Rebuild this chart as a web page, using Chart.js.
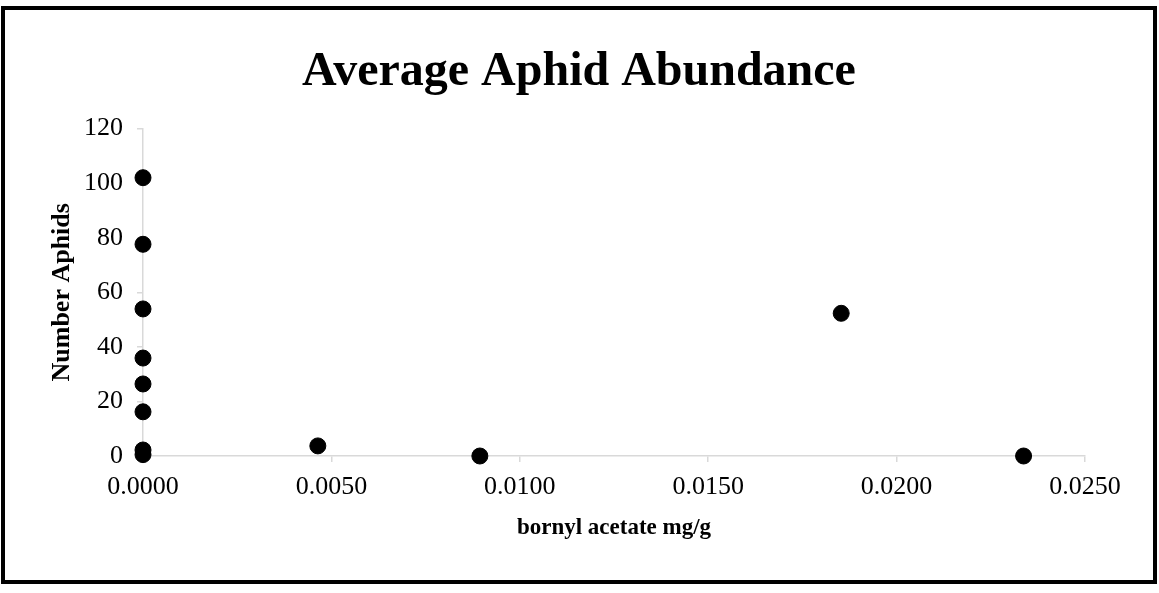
<!DOCTYPE html>
<html>
<head>
<meta charset="utf-8">
<title>Average Aphid Abundance</title>
<script src="https://cdn.jsdelivr.net/npm/chart.js@4.4.1/dist/chart.umd.min.js"></script>
<style>
  html, body { margin: 0; padding: 0; background: #fff; }
  #frame {
    position: absolute; left: 1px; top: 6px;
    width: 1156px; height: 578px;
    border: 4px solid #000; box-sizing: border-box;
  }
  #myChart { display: block; }
</style>
</head>
<body>
<div id="frame"><canvas id="myChart" width="1148" height="570"></canvas></div>
<script>
// data
const bornylAcetate = [0, 0, 0, 0, 0, 0, 0, 0, 0.00464, 0.00894, 0.01853, 0.02337];
const aphidCount    = [102, 77.6, 53.9, 35.9, 26.4, 16.2, 2.2, 0.5, 3.7, 0, 52.3, 0];
const xTicks = [0, 0.005, 0.01, 0.015, 0.02, 0.025];
const yTicks = [0, 20, 40, 60, 80, 100, 120];

const serif = "'Liberation Serif', 'Times New Roman', serif";
const axisGrey = '#d9d9d9';

function LoadChart() {
    const points = bornylAcetate.map(function (x, i) {
        return { x: x, y: aphidCount[i] };
    });

    const ctx = document.getElementById('myChart');
    new Chart(ctx, {
        type: 'scatter',
        data: {
            datasets: [{
                label: 'Aphids',
                data: points,
                yAxisID: 'y',
                backgroundColor: '#000',
                borderColor: '#000',
                pointRadius: 8,
                pointHoverRadius: 8,
                clip: false
            }]
        },
        options: {
            responsive: false,
            animation: false,
            layout: { padding: 0 },
            plugins: {
                legend: { display: false },
                tooltip: { enabled: false },
                title: {
                    display: true,
                    text: 'Average Aphid Abundance',
                    color: '#000',
                    font: { family: serif, size: 48, weight: 'bold' },
                    padding: { top: 34, bottom: 27 }
                }
            },
            scales: {
                x: {
                    type: 'linear',
                    min: xTicks[0],
                    max: xTicks[xTicks.length - 1],
                    afterBuildTicks: function (scale) {
                        scale.ticks = xTicks.map(function (v) { return { value: v }; });
                    },
                    afterFit: function (scale) { scale.height = 124; },
                    ticks: {
                        color: '#000',
                        padding: 10,
                        maxRotation: 0,
                        font: { family: serif, size: 26 },
                        callback: function (v) { return Number(v).toFixed(4); }
                    },
                    grid: { drawOnChartArea: false, drawTicks: true, tickLength: 6, color: axisGrey, lineWidth: 1.5 },
                    border: { color: axisGrey, width: 1.5 },
                    title: {
                        display: true,
                        text: 'bornyl acetate mg/g',
                        color: '#000',
                        font: { family: serif, size: 23, weight: 'bold' },
                        padding: { top: 0, bottom: 38 }
                    }
                },
                y: {
                    type: 'linear',
                    position: 'left',
                    min: yTicks[0],
                    max: yTicks[yTicks.length - 1],
                    afterBuildTicks: function (scale) {
                        scale.ticks = yTicks.map(function (v) { return { value: v }; });
                    },
                    afterFit: function (scale) { scale.width = 138; },
                    ticks: {
                        color: '#000',
                        padding: 14,
                        font: { family: serif, size: 26 }
                    },
                    grid: { drawOnChartArea: false, drawTicks: true, tickLength: 6, color: axisGrey, lineWidth: 1.5 },
                    border: { color: axisGrey, width: 1.5 },
                    title: {
                        display: true,
                        text: 'Number Aphids',
                        color: '#000',
                        font: { family: serif, size: 26, weight: 'bold' },
                        padding: { top: 42, bottom: 0 }
                    }
                },
                // empty right-hand scale, only keeps the blank strip on the right
                spacer: {
                    type: 'linear',
                    position: 'right',
                    min: 0,
                    max: 1,
                    afterFit: function (scale) { scale.width = 68; },
                    ticks: { display: false },
                    grid: { display: false },
                    border: { display: false }
                }
            }
        }
    });
}

LoadChart();
</script>
</body>
</html>
